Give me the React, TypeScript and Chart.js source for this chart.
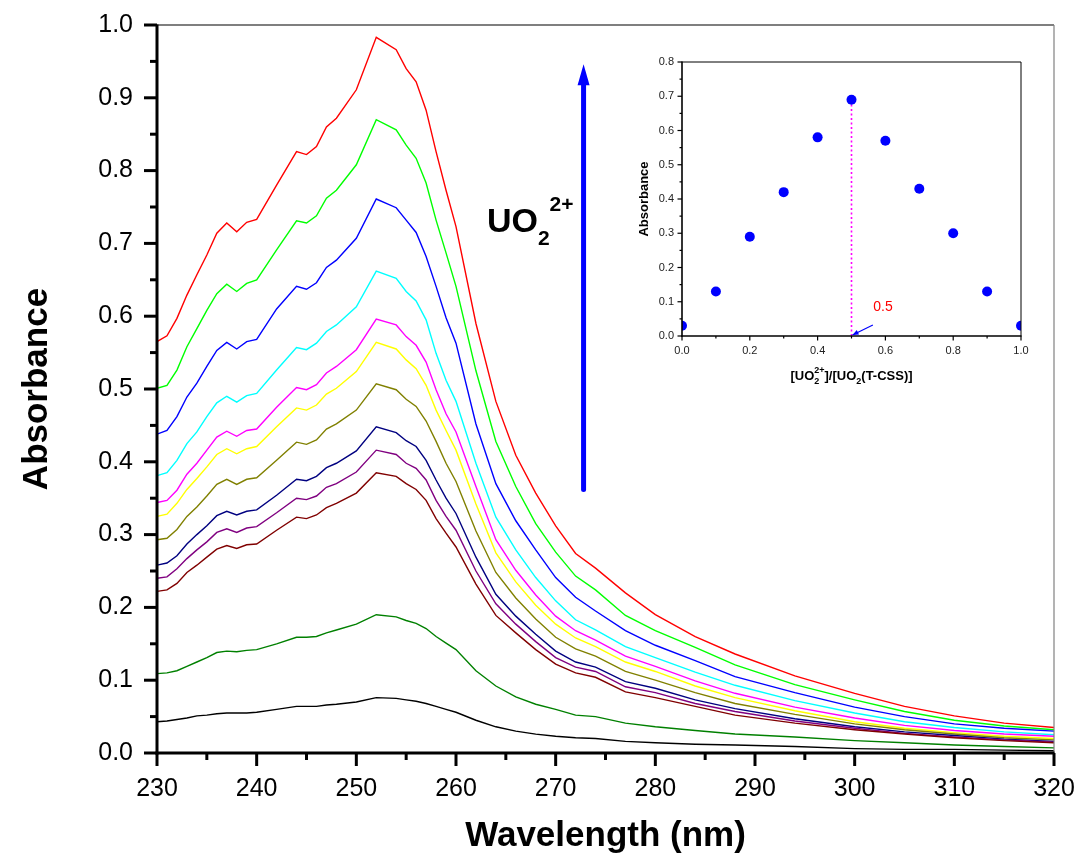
import React, { useEffect, useRef } from 'react';
import { Chart, registerables } from 'chart.js';

Chart.register(...registerables);

const FONT = '"Liberation Sans", Arial, sans-serif';

// ---------- main spectra ----------
const wavelengths = [230, 231, 232, 233, 234, 235, 236, 237, 238, 239, 240, 242, 244, 245, 246, 247, 248, 250, 252, 254, 255, 256, 257, 258, 259, 260, 262, 264, 266, 268, 270, 272, 274, 277, 280, 284, 288, 294, 300, 305, 310, 315, 320];

const absRed = [0.565, 0.573, 0.597, 0.629, 0.657, 0.684, 0.714, 0.728, 0.716, 0.729, 0.733, 0.780, 0.826, 0.822, 0.833, 0.860, 0.872, 0.911, 0.983, 0.966, 0.940, 0.922, 0.883, 0.826, 0.773, 0.723, 0.590, 0.483, 0.409, 0.357, 0.312, 0.274, 0.254, 0.220, 0.190, 0.160, 0.136, 0.106, 0.082, 0.064, 0.051, 0.041, 0.035];
const absGreen = [0.501, 0.505, 0.526, 0.558, 0.583, 0.608, 0.631, 0.644, 0.634, 0.645, 0.650, 0.691, 0.731, 0.728, 0.738, 0.762, 0.773, 0.808, 0.870, 0.856, 0.835, 0.817, 0.783, 0.732, 0.687, 0.641, 0.525, 0.428, 0.366, 0.315, 0.276, 0.243, 0.224, 0.189, 0.168, 0.145, 0.121, 0.094, 0.073, 0.057, 0.045, 0.037, 0.032];
const absBlue = [0.438, 0.443, 0.462, 0.489, 0.508, 0.531, 0.553, 0.564, 0.555, 0.565, 0.568, 0.610, 0.641, 0.637, 0.646, 0.667, 0.677, 0.707, 0.761, 0.749, 0.732, 0.715, 0.682, 0.641, 0.598, 0.563, 0.452, 0.370, 0.319, 0.279, 0.241, 0.214, 0.195, 0.168, 0.148, 0.127, 0.105, 0.083, 0.063, 0.050, 0.040, 0.034, 0.030];
const absCyan = [0.381, 0.385, 0.402, 0.425, 0.441, 0.462, 0.481, 0.490, 0.482, 0.491, 0.494, 0.526, 0.557, 0.554, 0.563, 0.579, 0.588, 0.613, 0.662, 0.652, 0.634, 0.621, 0.595, 0.549, 0.512, 0.483, 0.398, 0.324, 0.279, 0.241, 0.209, 0.183, 0.169, 0.146, 0.131, 0.111, 0.093, 0.072, 0.055, 0.043, 0.035, 0.029, 0.025];
const absMagenta = [0.344, 0.347, 0.361, 0.383, 0.398, 0.416, 0.434, 0.442, 0.435, 0.443, 0.445, 0.475, 0.502, 0.499, 0.506, 0.522, 0.531, 0.554, 0.596, 0.588, 0.572, 0.560, 0.537, 0.499, 0.466, 0.441, 0.366, 0.293, 0.251, 0.217, 0.188, 0.168, 0.155, 0.133, 0.119, 0.099, 0.082, 0.063, 0.048, 0.038, 0.031, 0.026, 0.023];
const absYellow = [0.325, 0.328, 0.343, 0.362, 0.377, 0.393, 0.410, 0.418, 0.411, 0.418, 0.421, 0.448, 0.474, 0.471, 0.478, 0.493, 0.501, 0.524, 0.564, 0.555, 0.540, 0.528, 0.505, 0.471, 0.443, 0.416, 0.342, 0.275, 0.235, 0.203, 0.177, 0.158, 0.146, 0.125, 0.112, 0.092, 0.076, 0.058, 0.043, 0.034, 0.028, 0.023, 0.020];
const absOlive = [0.293, 0.295, 0.307, 0.325, 0.338, 0.353, 0.369, 0.376, 0.369, 0.376, 0.378, 0.402, 0.427, 0.424, 0.430, 0.445, 0.452, 0.471, 0.507, 0.499, 0.486, 0.476, 0.456, 0.428, 0.398, 0.373, 0.305, 0.248, 0.213, 0.184, 0.159, 0.143, 0.133, 0.112, 0.100, 0.083, 0.068, 0.053, 0.040, 0.032, 0.026, 0.021, 0.018];
const absNavy = [0.258, 0.261, 0.271, 0.287, 0.300, 0.312, 0.326, 0.332, 0.327, 0.332, 0.334, 0.354, 0.376, 0.374, 0.380, 0.392, 0.398, 0.415, 0.448, 0.440, 0.429, 0.421, 0.402, 0.375, 0.350, 0.329, 0.269, 0.218, 0.188, 0.163, 0.140, 0.125, 0.118, 0.098, 0.089, 0.073, 0.061, 0.047, 0.036, 0.029, 0.024, 0.019, 0.016];
const absPurple = [0.240, 0.242, 0.253, 0.267, 0.279, 0.290, 0.303, 0.308, 0.303, 0.309, 0.311, 0.330, 0.350, 0.348, 0.353, 0.365, 0.370, 0.386, 0.416, 0.410, 0.398, 0.391, 0.375, 0.347, 0.325, 0.306, 0.250, 0.205, 0.177, 0.153, 0.131, 0.118, 0.112, 0.091, 0.083, 0.068, 0.057, 0.044, 0.034, 0.027, 0.022, 0.018, 0.015];
const absMaroon = [0.222, 0.224, 0.233, 0.248, 0.258, 0.269, 0.280, 0.285, 0.281, 0.286, 0.287, 0.306, 0.324, 0.322, 0.327, 0.337, 0.343, 0.357, 0.385, 0.380, 0.370, 0.362, 0.347, 0.322, 0.302, 0.283, 0.232, 0.189, 0.165, 0.142, 0.122, 0.110, 0.104, 0.084, 0.076, 0.064, 0.052, 0.041, 0.032, 0.026, 0.021, 0.017, 0.014];
const absDarkGreen = [0.109, 0.110, 0.113, 0.119, 0.125, 0.131, 0.138, 0.140, 0.139, 0.141, 0.142, 0.150, 0.159, 0.159, 0.160, 0.165, 0.169, 0.177, 0.190, 0.187, 0.182, 0.178, 0.171, 0.160, 0.151, 0.142, 0.113, 0.092, 0.077, 0.067, 0.060, 0.052, 0.050, 0.041, 0.036, 0.031, 0.026, 0.022, 0.017, 0.014, 0.011, 0.009, 0.007];
const absBlack = [0.043, 0.044, 0.046, 0.048, 0.051, 0.052, 0.054, 0.055, 0.055, 0.055, 0.056, 0.060, 0.064, 0.064, 0.064, 0.066, 0.067, 0.070, 0.076, 0.075, 0.073, 0.071, 0.068, 0.064, 0.060, 0.056, 0.045, 0.036, 0.030, 0.026, 0.023, 0.021, 0.020, 0.016, 0.014, 0.012, 0.011, 0.009, 0.006, 0.005, 0.005, 0.004, 0.003];

const spectra = [absBlack, absDarkGreen, absMaroon, absPurple, absNavy, absOlive, absYellow, absMagenta, absCyan, absBlue, absGreen, absRed];
const spectraColors = ['#000000', '#008000', '#800000', '#800080', '#000080', '#808000', '#FFFF00', '#FF00FF', '#00FFFF', '#0000FF', '#00FF00', '#FF0000'];

// ---------- inset (Job's plot) ----------
const jobFraction = [0.0, 0.1, 0.2, 0.3, 0.4, 0.5, 0.6, 0.7, 0.8, 0.9, 1.0];
const jobAbsorbance = [0.03, 0.13, 0.29, 0.42, 0.58, 0.69, 0.57, 0.43, 0.30, 0.13, 0.03];
const jobMaxFraction = 0.5;

type Seg = { t: string; size: number; dy: number; stack?: boolean };

function drawRich(ctx: CanvasRenderingContext2D, segs: Seg[], x: number, y: number, align: 'left' | 'center') {
  const widths: number[] = [];
  let total = 0;
  let prevW = 0;
  segs.forEach((s) => {
    ctx.font = `bold ${s.size}px ${FONT}`;
    const w = ctx.measureText(s.t).width;
    widths.push(w);
    if (s.stack) {
      total += Math.max(0, w - prevW);
    } else {
      total += w;
    }
    prevW = w;
  });
  let cx = align === 'center' ? x - total / 2 : x;
  let lastStart = cx;
  let lastW = 0;
  ctx.textAlign = 'left';
  ctx.textBaseline = 'alphabetic';
  segs.forEach((s, i) => {
    ctx.font = `bold ${s.size}px ${FONT}`;
    if (s.stack) {
      ctx.fillText(s.t, lastStart, y + s.dy);
      lastW = Math.max(lastW, widths[i]);
      cx = lastStart + lastW;
    } else {
      ctx.fillText(s.t, cx, y + s.dy);
      lastStart = cx;
      lastW = widths[i];
      cx += widths[i];
    }
  });
}

function drawFrameTicks(chart: any, o: any) {
  const { ctx, chartArea: a } = chart;
  const xs = chart.scales.x;
  const ys = chart.scales.y;
  ctx.save();
  const line = (x1: number, y1: number, x2: number, y2: number) => {
    ctx.beginPath();
    ctx.moveTo(x1, y1);
    ctx.lineTo(x2, y2);
    ctx.stroke();
  };
  ctx.lineCap = 'butt';
  ctx.strokeStyle = '#000';
  ctx.lineWidth = o.thin;
  line(a.left, a.top, a.right, a.top);
  ctx.strokeStyle = o.rightColor;
  line(a.right, a.top, a.right, a.bottom);
  ctx.strokeStyle = '#000';
  ctx.lineWidth = o.thick;
  line(a.left, a.top - o.thin / 2, a.left, a.bottom + o.thick / 2);
  line(a.left - o.thick / 2, a.bottom, a.right + 0.5, a.bottom);
  ctx.lineWidth = o.tickW;
  const nx = Math.round((xs.max - xs.min) / o.xMinor);
  for (let i = 0; i <= nx; i++) {
    const v = xs.min + i * o.xMinor;
    const r = v / o.xMajor;
    const major = Math.abs(r - Math.round(r)) < 1e-6;
    const px = xs.getPixelForValue(v);
    line(px, a.bottom, px, a.bottom + (major ? o.majorLen : o.minorLen));
  }
  const ny = Math.round((ys.max - ys.min) / o.yMinor);
  for (let i = 0; i <= ny; i++) {
    const v = ys.min + i * o.yMinor;
    const r = v / o.yMajor;
    const major = Math.abs(r - Math.round(r)) < 1e-6;
    const py = ys.getPixelForValue(v);
    line(a.left, py, a.left - (major ? o.majorLen : o.minorLen), py);
  }
  ctx.restore();
}

export default function App() {
  const mainRef = useRef<HTMLCanvasElement>(null);
  const insetRef = useRef<HTMLCanvasElement>(null);

  useEffect(() => {
    if (!mainRef.current || !insetRef.current) return;

    const mainPlugin = {
      id: 'mainDecor',
      afterDraw(chart: any) {
        drawFrameTicks(chart, { thin: 1.2, thick: 3, rightColor: '#808080', tickW: 3, majorLen: 13, minorLen: 7, xMinor: 5, xMajor: 10, yMinor: 0.05, yMajor: 0.1 });
        const { ctx } = chart;
        const xs = chart.scales.x;
        const ys = chart.scales.y;
        const ax = xs.getPixelForValue(272.8);
        const yb = ys.getPixelForValue(0.362);
        const yt = ys.getPixelForValue(0.946);
        ctx.save();
        ctx.strokeStyle = '#0000FF';
        ctx.fillStyle = '#0000FF';
        ctx.lineWidth = 5;
        ctx.lineCap = 'round';
        ctx.beginPath();
        ctx.moveTo(ax, yb);
        ctx.lineTo(ax, yt + 18);
        ctx.stroke();
        ctx.beginPath();
        ctx.moveTo(ax, yt);
        ctx.lineTo(ax - 6, yt + 21);
        ctx.lineTo(ax + 6, yt + 21);
        ctx.closePath();
        ctx.fill();
        ctx.fillStyle = '#000';
        const tx = xs.getPixelForValue(263.1);
        const ty = ys.getPixelForValue(0.716);
        drawRich(ctx, [
          { t: 'UO', size: 34, dy: 0 },
          { t: '2', size: 21, dy: 13 },
          { t: '2+', size: 21, dy: -21 },
        ], tx, ty, 'left');
        ctx.restore();
      },
    };

    const main = new Chart(mainRef.current, {
      type: 'line',
      data: {
        datasets: spectra.map((s, i) => ({
          data: wavelengths.map((w, j) => ({ x: w, y: s[j] })),
          borderColor: spectraColors[i],
          backgroundColor: spectraColors[i],
          borderWidth: 1.4,
          pointRadius: 0,
          tension: 0,
          fill: false,
        })),
      },
      options: {
        responsive: false,
        animation: false,
        events: [],
        layout: { padding: { top: 25, right: 29, left: 0, bottom: 0 } },
        plugins: { legend: { display: false }, tooltip: { enabled: false }, title: { display: false } },
        scales: {
          x: {
            type: 'linear',
            min: 230,
            max: 320,
            ticks: { stepSize: 10, autoSkip: false, maxRotation: 0, color: '#000', font: { family: FONT, size: 25 }, padding: 21, callback: (v: any) => String(Math.round(Number(v))) },
            grid: { display: false, drawTicks: false },
            border: { display: false },
            title: { display: true, text: 'Wavelength (nm)', color: '#000', font: { family: FONT, size: 35, weight: 'bold' }, padding: { top: 0, bottom: 7 } },
            afterFit: (s: any) => { s.height = 111; s.paddingLeft = 0; s.paddingRight = 0; },
          },
          y: {
            type: 'linear',
            min: 0,
            max: 1,
            ticks: { stepSize: 0.1, autoSkip: false, color: '#000', font: { family: FONT, size: 25 }, padding: 24, callback: (v: any) => Number(v).toFixed(1) },
            grid: { display: false, drawTicks: false },
            border: { display: false },
            title: { display: true, text: 'Absorbance', color: '#000', font: { family: FONT, size: 35, weight: 'bold' }, padding: { top: 16, bottom: 0 } },
            afterFit: (s: any) => { s.width = 157; s.paddingTop = 0; s.paddingBottom = 0; },
          },
        },
      },
      plugins: [mainPlugin],
    } as any);

    const insetPlugin = {
      id: 'insetDecor',
      beforeDatasetsDraw(chart: any) {
        const { ctx } = chart;
        const xs = chart.scales.x;
        const ys = chart.scales.y;
        const idx = jobFraction.indexOf(jobMaxFraction);
        const px = xs.getPixelForValue(jobMaxFraction);
        ctx.save();
        ctx.strokeStyle = '#FF00FF';
        ctx.lineWidth = 1.6;
        ctx.setLineDash([2, 2.5]);
        ctx.beginPath();
        ctx.moveTo(px, ys.getPixelForValue(0));
        ctx.lineTo(px, ys.getPixelForValue(jobAbsorbance[idx]));
        ctx.stroke();
        ctx.restore();
      },
      afterDraw(chart: any) {
        drawFrameTicks(chart, { thin: 1, thick: 1.6, rightColor: '#000', tickW: 1.2, majorLen: 4.5, minorLen: 2.5, xMinor: 0.1, xMajor: 0.2, yMinor: 0.05, yMajor: 0.1 });
        const { ctx, chartArea: a } = chart;
        const xs = chart.scales.x;
        const ys = chart.scales.y;
        ctx.save();
        const x0 = xs.getPixelForValue(0.563);
        const y0 = ys.getPixelForValue(0.032);
        const x1 = xs.getPixelForValue(jobMaxFraction) + 1;
        const y1 = ys.getPixelForValue(0) - 1;
        ctx.strokeStyle = '#0000FF';
        ctx.fillStyle = '#0000FF';
        ctx.lineWidth = 1.2;
        ctx.beginPath();
        ctx.moveTo(x0, y0);
        ctx.lineTo(x1, y1);
        ctx.stroke();
        const ang = Math.atan2(y1 - y0, x1 - x0);
        ctx.beginPath();
        ctx.moveTo(x1, y1);
        ctx.lineTo(x1 - 6 * Math.cos(ang) + 2.5 * Math.sin(ang), y1 - 6 * Math.sin(ang) - 2.5 * Math.cos(ang));
        ctx.lineTo(x1 - 6 * Math.cos(ang) - 2.5 * Math.sin(ang), y1 - 6 * Math.sin(ang) + 2.5 * Math.cos(ang));
        ctx.closePath();
        ctx.fill();
        ctx.fillStyle = '#FF0000';
        ctx.font = `14px ${FONT}`;
        ctx.textAlign = 'center';
        ctx.textBaseline = 'middle';
        ctx.fillText(String(jobMaxFraction), xs.getPixelForValue(0.593), ys.getPixelForValue(0.083));
        ctx.fillStyle = '#000';
        drawRich(ctx, [
          { t: '[UO', size: 13, dy: 0 },
          { t: '2', size: 9, dy: 4 },
          { t: '2+', size: 9, dy: -7, stack: true },
          { t: ']/[UO', size: 13, dy: 0 },
          { t: '2', size: 9, dy: 4 },
          { t: '(T-CSS)]', size: 13, dy: 0 },
        ], (a.left + a.right) / 2, 380, 'center');
        ctx.restore();
      },
    };

    const inset = new Chart(insetRef.current, {
      type: 'scatter',
      data: {
        datasets: [{
          data: jobFraction.map((f, i) => ({ x: f, y: jobAbsorbance[i] })),
          pointRadius: 5,
          pointBackgroundColor: '#0000FF',
          pointBorderColor: '#0000FF',
          pointBorderWidth: 0,
          showLine: false,
          clip: 0,
        }],
      },
      options: {
        responsive: false,
        animation: false,
        events: [],
        layout: { padding: { left: 600, top: 62, right: 62, bottom: 464 } },
        plugins: { legend: { display: false }, tooltip: { enabled: false } },
        scales: {
          x: {
            type: 'linear',
            min: 0,
            max: 1,
            ticks: { stepSize: 0.2, autoSkip: false, maxRotation: 0, color: '#222', font: { family: FONT, size: 11 }, padding: 8, callback: (v: any) => Number(v).toFixed(1) },
            grid: { display: false, drawTicks: false },
            border: { display: false },
            afterFit: (s: any) => { s.height = 64; s.paddingLeft = 0; s.paddingRight = 0; },
          },
          y: {
            type: 'linear',
            min: 0,
            max: 0.8,
            ticks: { stepSize: 0.1, autoSkip: false, color: '#222', font: { family: FONT, size: 11 }, padding: 8, callback: (v: any) => Number(v).toFixed(1) },
            grid: { display: false, drawTicks: false },
            border: { display: false },
            title: { display: true, text: 'Absorbance', color: '#000', font: { family: FONT, size: 13, weight: 'bold' }, padding: { top: 37, bottom: 0 } },
            afterFit: (s: any) => { s.width = 82; s.paddingTop = 0; s.paddingBottom = 0; },
          },
        },
      },
      plugins: [insetPlugin],
    } as any);

    return () => {
      main.destroy();
      inset.destroy();
    };
  }, []);

  return (
    <div style={{ position: 'absolute', left: 0, top: 0, width: 1083, height: 864, background: '#fff' }}>
      <canvas ref={mainRef} width={1083} height={864} style={{ position: 'absolute', left: 0, top: 0 }} />
      <canvas ref={insetRef} width={1083} height={864} style={{ position: 'absolute', left: 0, top: 0 }} />
    </div>
  );
}
